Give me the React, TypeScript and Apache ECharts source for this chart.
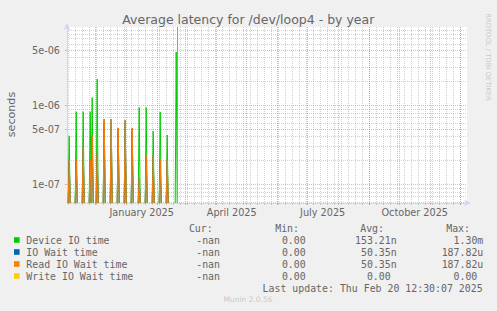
import { useEffect, useRef } from "react";
import * as echarts from "echarts";

// ---- axis ranges ----
const X_MIN = "2024-11-02T07:12:00Z";
const X_MAX = "2025-12-07T07:12:00Z";
const Y_MIN = 5.8e-8;
const Y_MAX = 9.8e-6;
const LAST_UPDATE = "2025-02-20T12:30:07Z";

// ---- data (daily averages, spikes only; other days are 0) ----
const SPIKE_DAYS = [
  "2024-11-04", "2024-11-11", "2024-11-18", "2024-11-25", "2024-11-27",
  "2024-12-02", "2024-12-09", "2024-12-16", "2024-12-23", "2024-12-30",
  "2025-01-06", "2025-01-13", "2025-01-20", "2025-01-27", "2025-02-03",
  "2025-02-10", "2025-02-19",
];
const DEVICE_IO_TIME = [
  4.1e-7, 8.3e-7, 8.3e-7, 8.3e-7, 1.25e-6,
  2.15e-6, 6.0e-7, 6.0e-7, 4.8e-7, 6.0e-7,
  4.8e-7, 9.4e-7, 9.4e-7, 4.7e-7, 8.2e-7,
  4.2e-7, 4.73e-6,
];
const IO_WAIT_TIME = [
  2.07e-7, 2.07e-7, 3.0e-7, 2.07e-7, 4.1e-7,
  2.5e-7, 6.7e-7, 6.7e-7, 5.16e-7, 6.5e-7,
  5.1e-7, 1.19e-7, 2.35e-7, 2.35e-7, 2.07e-7,
  2.07e-7, 0,
];
const READ_IO_WAIT_TIME = [
  2.07e-7, 2.07e-7, 3.0e-7, 2.07e-7, 4.1e-7,
  2.5e-7, 6.7e-7, 6.7e-7, 5.16e-7, 6.5e-7,
  5.1e-7, 1.19e-7, 2.35e-7, 2.35e-7, 2.07e-7,
  2.07e-7, 0,
];
const WRITE_IO_WAIT_TIME = [
  0, 0, 0, 0, 0, 0, 0, 0, 0, 0, 0, 0, 0, 0, 0, 0, 0,
];

// ---- ticks ----
const MONTH_STARTS = [
  "2024-12-01", "2025-01-01", "2025-02-01", "2025-03-01", "2025-04-01",
  "2025-05-01", "2025-06-01", "2025-07-01", "2025-08-01", "2025-09-01",
  "2025-10-01", "2025-11-01", "2025-12-01",
];
const MONTH_LABEL_DAYS = ["2025-01-16", "2025-04-16", "2025-07-16", "2025-10-16"];
const MONTH_NAMES = [
  "January", "February", "March", "April", "May", "June",
  "July", "August", "September", "October", "November", "December",
];
const FIRST_WEEK = "2024-11-04";
const Y_MAJOR = [1e-7, 5e-7, 1e-6, 5e-6];
const Y_MINOR = [
  6e-8, 7e-8, 8e-8, 9e-8, 2e-7, 3e-7, 4e-7, 6e-7, 7e-7, 8e-7, 9e-7,
  2e-6, 3e-6, 4e-6, 6e-6, 7e-6, 8e-6, 9e-6,
];

// ---- legend ----
const SERIES_NAMES = ["Device IO time", "IO Wait time", "Read IO Wait time", "Write IO Wait time"];
const SERIES_COLORS = ["#00cc00", "#0066b3", "#ff8000", "#ffcc00"];
const CUR = ["-nan", "-nan", "-nan", "-nan"];
const MIN = ["0.00", "0.00", "0.00", "0.00"];
const AVG = ["153.21n", "50.35n", "50.35n", "0.00"];
const MAX = ["1.30m", "187.82u", "187.82u", "0.00"];

const DAY = 86400000;
const GRID = "rgba(143,143,143,0.42)";
const MGRID = "rgba(222,79,79,0.45)";
const AXIS = "#cfd6f8";
const FONT = "#666666";
const SANS = '"DejaVu Sans", sans-serif';
const MONO = '"DejaVu Sans Mono", monospace';

const ts = (d: string) => Date.parse(d.length === 10 ? d + "T00:00:00Z" : d);

function spikeData(values: number[]) {
  const out: any[] = [];
  SPIKE_DAYS.forEach((d, i) => {
    const v = values[i];
    if (!(v > 0)) return;
    const t = ts(d) + DAY / 2;
    out.push([t - DAY, Y_MIN], [t, v], [t + DAY, Y_MIN], [t + DAY + 1, "-"]);
  });
  return out;
}

function weeks() {
  const out: number[] = [];
  const end = ts(X_MAX);
  for (let t = ts(FIRST_WEEK); t <= end; t += 7 * DAY) out.push(t);
  return out;
}

function expLabel(v: number) {
  return Number(v).toExponential(0).replace(/e([+-])(\d)$/, "e$10$2");
}

export default function App() {
  const ref = useRef<HTMLDivElement>(null);
  useEffect(() => {
    document.body.style.margin = "0";
    const chart = echarts.init(ref.current!, null, { renderer: "svg" });

    const dotted = (color: string) => ({ show: true, lineStyle: { color, width: 1, type: [1, 1] } });
    const arrowLine = {
      show: true,
      lineStyle: { color: AXIS, width: 1 },
      symbol: ["none", "arrow"],
      symbolSize: [5, 7],
      symbolOffset: [0, 4],
    };

    const graphic: any[] = [
      {
        type: "text", x: 248.3, y: 19,
        style: { text: "Average latency for /dev/loop4 - by year", font: `12.5px ${SANS}`, fill: FONT, align: "center", verticalAlign: "middle" },
      },
      {
        type: "text", x: 11.7, y: 114.5, rotation: Math.PI / 2,
        style: { text: "seconds", font: `11.1px ${SANS}`, fill: FONT, align: "center", verticalAlign: "middle" },
      },
      {
        type: "text", x: 487.5, y: 57, rotation: -Math.PI / 2,
        style: { text: "RRDTOOL / TOBI OETIKER", font: `6.8px ${SANS}`, fill: "#c8c8c8", align: "center", verticalAlign: "middle" },
      },
      {
        type: "text", x: 248, y: 299.7,
        style: { text: "Munin 2.0.56", font: `7.5px ${SANS}`, fill: "#c8c8c8", align: "center", verticalAlign: "middle" },
      },
    ];
    const legendFont = `9.9px ${MONO}`;
    const header: [string, number][] = [["Cur:", 212.7], ["Min:", 299], ["Avg:", 384], ["Max:", 470]];
    header.forEach(([t, x]) =>
      graphic.push({ type: "text", x, y: 228, style: { text: t, font: legendFont, fill: FONT, align: "right", verticalAlign: "middle" } })
    );
    const suffixed = (s: string) => /[a-zA-Z]$/.test(s) && s !== "-nan";
    SERIES_NAMES.forEach((name, i) => {
      const y = 240 + i * 12;
      graphic.push({ type: "rect", shape: { x: 14, y: y - 2.8, width: 5.6, height: 5.6 }, style: { fill: SERIES_COLORS[i] } });
      graphic.push({ type: "text", x: 26.3, y, style: { text: name, font: legendFont, fill: FONT, align: "left", verticalAlign: "middle" } });
      graphic.push({ type: "text", x: 220, y, style: { text: CUR[i], font: legendFont, fill: FONT, align: "right", verticalAlign: "middle" } });
      graphic.push({ type: "text", x: 305.7, y, style: { text: MIN[i], font: legendFont, fill: FONT, align: "right", verticalAlign: "middle" } });
      graphic.push({ type: "text", x: suffixed(AVG[i]) ? 396.7 : 390.7, y, style: { text: AVG[i], font: legendFont, fill: FONT, align: "right", verticalAlign: "middle" } });
      graphic.push({ type: "text", x: suffixed(MAX[i]) ? 483.3 : 477.3, y, style: { text: MAX[i], font: legendFont, fill: FONT, align: "right", verticalAlign: "middle" } });
    });
    graphic.push({
      type: "text", x: 482.6, y: 288,
      style: { text: "Last update: Thu Feb 20 12:30:07 2025", font: legendFont, fill: FONT, align: "right", verticalAlign: "middle" },
    });

    const values = [DEVICE_IO_TIME, IO_WAIT_TIME, READ_IO_WAIT_TIME, WRITE_IO_WAIT_TIME];
    const series: any[] = SERIES_NAMES.map((name, i) => ({
      type: "line",
      name,
      xAxisIndex: 0,
      yAxisIndex: 0,
      data: spikeData(values[i]),
      symbol: "none",
      showSymbol: false,
      connectNulls: false,
      clip: true,
      silent: true,
      lineStyle: { color: SERIES_COLORS[i], width: 1 },
      itemStyle: { color: SERIES_COLORS[i] },
    }));
    series[0].markLine = {
      silent: true,
      symbol: ["none", "none"],
      label: { show: false },
      lineStyle: { color: "#999999", type: "solid", width: 1 },
      data: [{ xAxis: ts(LAST_UPDATE) }],
    };

    chart.setOption({
      animation: false,
      backgroundColor: "#f0f0f0",
      grid: {
        left: 67, right: 30, top: 27, bottom: 108,
        show: true, backgroundColor: "#ffffff", borderWidth: 0,
        containLabel: false, outerBoundsMode: "none",
      },
      xAxis: [
        {
          type: "value", min: ts(X_MIN), max: ts(X_MAX), position: "bottom",
          axisLine: arrowLine,
          axisTick: { show: true, length: 2, customValues: weeks(), lineStyle: { color: GRID } },
          axisLabel: { show: false },
          splitLine: dotted(GRID),
        },
        {
          type: "value", min: ts(X_MIN), max: ts(X_MAX), position: "bottom", offset: 0,
          axisLine: { show: false },
          axisTick: { show: true, length: 2, customValues: MONTH_STARTS.map(ts), lineStyle: { color: MGRID } },
          axisLabel: {
            show: true,
            customValues: MONTH_LABEL_DAYS.map(ts),
            formatter: (v: number) => {
              const d = new Date(v);
              return `${MONTH_NAMES[d.getUTCMonth()]} ${d.getUTCFullYear()}`;
            },
            fontFamily: SANS, fontSize: 9.7, color: FONT, margin: 4, hideOverlap: false,
          },
          splitLine: dotted(MGRID),
        },
      ],
      yAxis: [
        {
          type: "log", min: Y_MIN, max: Y_MAX, position: "left",
          axisLine: arrowLine,
          axisTick: { show: false, customValues: Y_MINOR },
          axisLabel: { show: false },
          splitLine: dotted(GRID),
        },
        {
          type: "log", min: Y_MIN, max: Y_MAX, position: "left", offset: 0,
          axisLine: { show: false },
          axisTick: { show: true, length: 2, customValues: Y_MAJOR, lineStyle: { color: MGRID } },
          axisLabel: {
            show: true, customValues: Y_MAJOR, formatter: (v: number) => expLabel(v),
            fontFamily: SANS, fontSize: 9.7, color: FONT, margin: 7,
          },
          splitLine: dotted(MGRID),
        },
      ],
      graphic,
      series,
    });
    return () => chart.dispose();
  }, []);
  return <div ref={ref} style={{ position: "fixed", left: 0, top: 0, width: 497, height: 311 }} />;
}
